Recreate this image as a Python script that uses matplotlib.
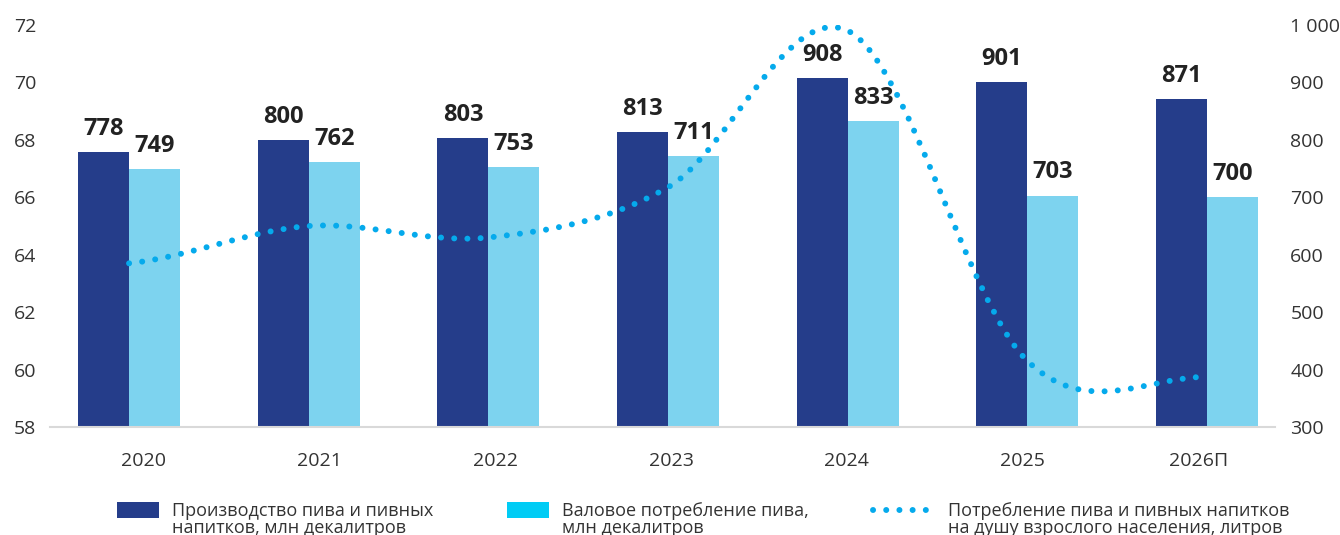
import matplotlib.pyplot as plt
from matplotlib.path import Path
from matplotlib.patches import PathPatch, Patch, Rectangle
from matplotlib.lines import Line2D
from matplotlib.legend_handler import HandlerPatch, HandlerLine2D
from matplotlib.ticker import FuncFormatter

plt.rcParams['font.family'] = ['Open Sans', 'DejaVu Sans']

years = ['2020', '2021', '2022', '2023', '2024', '2025', '2026П']
production = [778, 800, 803, 813, 908, 901, 871]      # млн декалитров
# bar heights as drawn in the source (2023 bar is drawn higher than its label)
consumption = [749, 762, 753, 772, 833, 703, 700]     # млн декалитров
consumption_labels = ['749', '762', '753', '711', '833', '703', '700']
per_capita = [63.7, 65.0, 64.6, 66.35, 71.8, 60.3, 59.75]  # литров

dark = '#253D8A'
light = '#7DD3EF'
legend_light = '#00CCF5'
dot_color = '#05AAEC'
text_color = '#222222'
tick_color = '#333333'


def smooth_path(xs, ys):
    # Catmull-Rom style smoothing, drawn as cubic bezier segments
    n = len(xs)
    slopes = []
    for i in range(n):
        if i == 0:
            slopes.append((ys[1] - ys[0]) / 2)
        elif i == n - 1:
            slopes.append(0.0)
        else:
            slopes.append((ys[i + 1] - ys[i - 1]) / 2)
    verts = [(xs[0], ys[0])]
    codes = [Path.MOVETO]
    for i in range(n - 1):
        verts += [(xs[i] + 1 / 3, ys[i] + slopes[i] / 3),
                  (xs[i + 1] - 1 / 3, ys[i + 1] - slopes[i + 1] / 3),
                  (xs[i + 1], ys[i + 1])]
        codes += [Path.CURVE4] * 3
    return Path(verts, codes)


# legend handles sit level with the first line of a two-line label
def lifted_rect(legend, orig_handle, xdescent, ydescent, width, height, fontsize):
    return Rectangle((-xdescent, -ydescent + 7.5), width, height)


class LiftedLine(HandlerLine2D):
    def create_artists(self, *args, **kwargs):
        arts = super().create_artists(*args, **kwargs)
        for a in arts:
            a.set_ydata([y + 6.5 for y in a.get_ydata()])
        return arts


fig = plt.figure(figsize=(13.4, 5.35), dpi=100)
ax = fig.add_axes([50 / 1340, 108 / 535, 1225 / 1340, 402 / 535])
ax2 = ax.twinx()
ax.set_zorder(ax2.get_zorder() + 1)
ax.patch.set_visible(False)

x = list(range(len(years)))
w = 0.284
ax2.bar([i - w / 2 for i in x], production, width=w, color=dark, zorder=2)
ax2.bar([i + w / 2 for i in x], consumption, width=w, color=light, zorder=2)

for i in x:
    ax2.annotate(str(production[i]), (i - w / 2, production[i]), xytext=(0, 8),
                 textcoords='offset points', ha='center', va='bottom',
                 fontsize=17, fontweight='bold', color=text_color)
    ax2.annotate(consumption_labels[i], (i + w / 2, consumption[i]), xytext=(0, 8),
                 textcoords='offset points', ha='center', va='bottom',
                 fontsize=17, fontweight='bold', color=text_color)

dotted = (0, (0.01, 2.2))
curve = PathPatch(smooth_path(x, per_capita), fill=False, edgecolor=dot_color,
                  linewidth=4.3, linestyle=dotted, capstyle='round', zorder=3)
ax.add_patch(curve)

ax.set_xlim(-0.44, 6.378)
ax.set_ylim(58, 72)
ax.set_yticks(range(58, 73, 2))
ax2.set_ylim(300, 1000)
ax2.set_yticks(range(300, 1001, 100))
ax2.yaxis.set_major_formatter(FuncFormatter(lambda v, p: f'{v:,.0f}'.replace(',', ' ')))

# the year labels in the source sit on a slightly narrower grid than the bars
ax.set_xticks([0.083 + i * 0.978 for i in x])
ax.set_xticklabels(years)

for a in (ax, ax2):
    for s in a.spines.values():
        s.set_visible(False)
    a.tick_params(length=0, labelsize=14, labelcolor=tick_color)
ax.spines['bottom'].set_visible(True)
ax.spines['bottom'].set_color('#D9D9D9')
ax.spines['bottom'].set_linewidth(1.5)
ax.tick_params(axis='x', pad=18)
ax.tick_params(axis='y', pad=10)
ax2.tick_params(axis='y', pad=11)

# legend: one entry per block so each sits where it does in the source
entries = [
    (Patch(facecolor=dark), HandlerPatch(patch_func=lifted_rect),
     'Производство пива и пивных\nнапитков, млн декалитров', 117, 2.3, 0.75),
    (Patch(facecolor=legend_light), HandlerPatch(patch_func=lifted_rect),
     'Валовое потребление пива,\nмлн декалитров', 507, 2.3, 0.75),
    (Line2D([0], [0], color=dot_color, linewidth=4.3, linestyle=(0, (0.01, 2.2)),
            dash_capstyle='round'), LiftedLine(),
     'Потребление пива и пивных напитков\nна душу взрослого населения, литров', 873, 3.05, 1.1),
]
for handle, handler, label, left, hlen, tpad in entries:
    leg = fig.legend([handle], [label], loc='upper left',
                     bbox_to_anchor=(left / 1340, 1 - 502 / 535),
                     handler_map={handle: handler},
                     frameon=False, fontsize=13, labelcolor=tick_color,
                     handlelength=hlen, handleheight=1.0, handletextpad=tpad,
                     borderaxespad=0, borderpad=0)
    for t in leg.get_texts():
        t.set_linespacing(0.95)

fig.savefig('out.png', dpi=100)
